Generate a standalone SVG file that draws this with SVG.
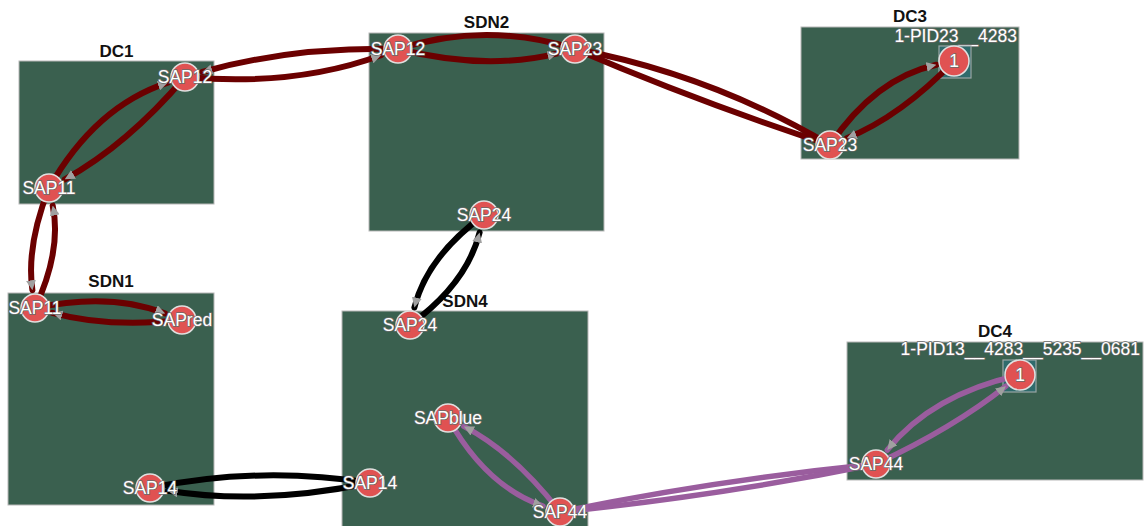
<svg xmlns="http://www.w3.org/2000/svg" width="1147" height="526" viewBox="0 0 1147 526">
  <defs>
    <marker id="arrow" viewBox="0 -5 10 10" refX="10" refY="0" markerWidth="10" markerHeight="10" markerUnits="userSpaceOnUse" orient="auto">
      <path d="M0,-5 L10,0 L0,5 Z" fill="#a0a0a0"/>
    </marker>
    <style>
      .box { fill: #3a604f; stroke: #b8b8b8; stroke-width: 1; }
      .title { font-family: "Liberation Sans", Arial, sans-serif; font-weight: bold; font-size: 17px; fill: #111; text-anchor: middle; }
      .pid { font-family: "Liberation Sans", Arial, sans-serif; font-size: 17.5px; fill: #fff; stroke: #6a6a6a; stroke-width: 1.4; paint-order: stroke; text-anchor: end; }
      .port { fill: #2f6b6c; stroke: #9aa6a6; stroke-width: 1.2; }
      .node circle { fill: #e05252; stroke: #e0e0e0; stroke-width: 1.5; }
      .node text { font-family: "Liberation Sans", Arial, sans-serif; font-size: 17.5px; fill: #fff; stroke: #6a6a6a; stroke-width: 1.4; paint-order: stroke; text-anchor: middle; }
      .edge { fill: none; stroke-width: 6; stroke-linecap: round; }
      .red { stroke: #6b0000; }
      .black { stroke: #000; }
      .purple { stroke: #9a5d9e; stroke-width: 5.5; }
      .arr { marker-end: url(#arrow); }
    </style>
  </defs>
  <rect width="1147" height="526" fill="#fff"/>

  <!-- domain boxes -->
  <g id="DC1">
    <rect class="box" x="19" y="61" width="195" height="143"/>
    <text class="title" x="116.5" y="57">DC1</text>
  </g>
  <g id="SDN2">
    <rect class="box" x="369" y="33" width="235" height="198"/>
    <text class="title" x="486.5" y="28">SDN2</text>
  </g>
  <g id="DC3">
    <rect class="box" x="801" y="27" width="218" height="132"/>
    <text class="title" x="910" y="22">DC3</text>
    <text class="pid" x="1017" y="42">1-PID23__4283</text>
    <rect class="port" x="939" y="46" width="32" height="32"/>
  </g>
  <g id="SDN1">
    <rect class="box" x="8" y="293" width="206" height="212"/>
    <text class="title" x="111" y="287">SDN1</text>
  </g>
  <g id="SDN4">
    <rect class="box" x="342" y="311" width="246" height="220"/>
    <text class="title" x="465" y="307">SDN4</text>
  </g>
  <g id="DC4">
    <rect class="box" x="847" y="342" width="296" height="138"/>
    <text class="title" x="995" y="337">DC4</text>
    <text class="pid" x="1140" y="355">1-PID13__4283__5235__0681</text>
    <rect class="port" x="1003" y="360" width="33" height="32"/>
  </g>

  <!-- links -->
  <g id="connectors">
    <!-- DC1 SAP11 <-> DC1 SAP12 -->
    <path class="edge red arr" d="M49,188 Q95.5,106.1 167.9,82.6"/>
    <path class="edge red arr" d="M185,77 Q127.1,144.9 64.8,179.3"/>
    <!-- DC1 SAP12 <-> SDN2 SAP12 -->
    <path class="edge red arr" d="M398,49 Q289.4,47.1 202.3,72"/>
    <path class="edge red arr" d="M185,77 Q294.6,86.8 381.1,55.2"/>
    <!-- SDN2 SAP12 <-> SDN2 SAP23 -->
    <path class="edge red arr" d="M398,49 Q486.5,71 557.5,53.3"/>
    <path class="edge red" d="M575,49 Q486.5,21 398,49"/>
    <!-- SDN2 SAP23 <-> DC3 SAP23 -->
    <path class="edge red" d="M575,49 Q711,74.5 830,145"/>
    <path class="edge red" d="M830,145 Q700.4,102.6 575,49"/>
    <!-- DC3 SAP23 <-> DC3 1 -->
    <path class="edge red arr" d="M830,145 Q875.2,78.2 936.4,64.8"/>
    <path class="edge red arr" d="M954,61 Q901,116.2 846.7,138.2"/>
    <!-- DC1 SAP11 <-> SDN1 SAP11 -->
    <path class="edge red arr" d="M35,308 Q61.9,250.3 52.7,205.6"/>
    <path class="edge red arr" d="M49,188 Q26.1,246.1 32.4,290.2"/>
    <!-- SDN1 SAP11 <-> SDN1 SAPred -->
    <path class="edge red arr" d="M35,308 Q110.3,292.1 165.2,313.5"/>
    <path class="edge red arr" d="M182,320 Q107.4,328 52.4,312.8"/>
    <!-- SDN2 SAP24 <-> SDN4 SAP24 -->
    <path class="edge black arr" d="M410,325 Q466.9,283.4 479.6,232.5"/>
    <path class="edge black arr" d="M484,215 Q427.1,256.6 414.4,307.5"/>
    <!-- SDN1 SAP14 <-> SDN4 SAP14 -->
    <path class="edge black" d="M150,488 Q259.5,465.5 370,483"/>
    <path class="edge black arr" d="M370,483 Q260.5,505.5 167.8,490.8"/>
    <!-- SDN4 SAPblue <-> SDN4 SAP44 -->
    <path class="edge purple arr" d="M560,512 Q514.3,452.7 463.9,426.4"/>
    <path class="edge purple arr" d="M448,418 Q486,486.4 543,506.1"/>
    <!-- SDN4 SAP44 <-> DC4 SAP44 -->
    <path class="edge purple" d="M560,512 Q716.8,480.1 876,464"/>
    <path class="edge purple" d="M876,464 Q719.2,495.9 560,512"/>
    <!-- DC4 SAP44 <-> DC4 1 -->
    <path class="edge purple arr" d="M1020,375 Q932.2,394 887.3,450"/>
    <path class="edge purple arr" d="M876,464 Q953.3,428 1005.9,386.2"/>
  </g>

  <!-- service access points -->
  <g id="DC1-SAP12" class="node"><circle cx="185" cy="77" r="14"/><text x="185" y="83">SAP12</text></g>
  <g id="DC1-SAP11" class="node"><circle cx="49" cy="188" r="14"/><text x="49" y="194">SAP11</text></g>
  <g id="SDN2-SAP12" class="node"><circle cx="398" cy="49" r="14"/><text x="398" y="55">SAP12</text></g>
  <g id="SDN2-SAP23" class="node"><circle cx="575" cy="49" r="14"/><text x="575" y="55">SAP23</text></g>
  <g id="SDN2-SAP24" class="node"><circle cx="484" cy="215" r="14"/><text x="484" y="221">SAP24</text></g>
  <g id="DC3-SAP23" class="node"><circle cx="830" cy="145" r="14"/><text x="830" y="151">SAP23</text></g>
  <g id="DC3-1" class="node"><circle cx="954" cy="61" r="15"/><text x="954" y="67">1</text></g>
  <g id="SDN1-SAP11" class="node"><circle cx="35" cy="308" r="14"/><text x="35" y="314">SAP11</text></g>
  <g id="SDN1-SAPred" class="node"><circle cx="182" cy="320" r="14"/><text x="182" y="326">SAPred</text></g>
  <g id="SDN1-SAP14" class="node"><circle cx="150" cy="488" r="14"/><text x="150" y="494">SAP14</text></g>
  <g id="SDN4-SAP24" class="node"><circle cx="410" cy="325" r="14"/><text x="410" y="331">SAP24</text></g>
  <g id="SDN4-SAP14" class="node"><circle cx="370" cy="483" r="14"/><text x="370" y="489">SAP14</text></g>
  <g id="SDN4-SAPblue" class="node"><circle cx="448" cy="418" r="14"/><text x="448" y="424">SAPblue</text></g>
  <g id="SDN4-SAP44" class="node"><circle cx="560" cy="512" r="14"/><text x="560" y="518">SAP44</text></g>
  <g id="DC4-SAP44" class="node"><circle cx="876" cy="464" r="14"/><text x="876" y="470">SAP44</text></g>
  <g id="DC4-1" class="node"><circle cx="1020" cy="375" r="15"/><text x="1020" y="381">1</text></g>
</svg>
